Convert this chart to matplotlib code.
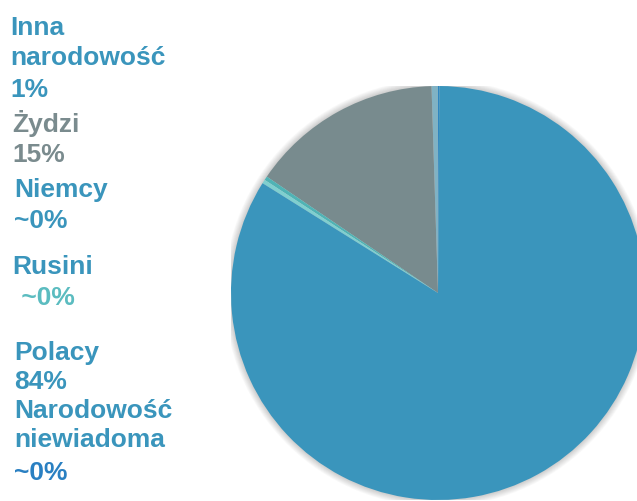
import matplotlib.pyplot as plt
from matplotlib.patches import Circle


FIG_W = 637
FIG_H = 501

# slice order, counterclockwise starting from 12 o'clock
categories = ["Inna narodowość", "Żydzi", "Niemcy", "Rusini", "Polacy", "Narodowość niewiadoma"]
shares = [0.5, 15.0, 0.3, 0.3, 83.8, 0.1]
slice_colors = ["#80b2c4", "#788b8e", "#4fb3b5", "#7fcfcf", "#3a95bc", "#2f86c0"]

# labels on the left: (text, color, x px, baseline y px)
label_lines = [
    ("Inna", "#3a95bc", 10, 35),
    ("narodowość", "#3a95bc", 10, 65),
    ("1%", "#3a95bc", 10, 97),
    ("Żydzi", "#7a8b8e", 12, 132),
    ("15%", "#7a8b8e", 12, 162),
    ("Niemcy", "#3a95bc", 14, 197),
    ("~0%", "#3a95bc", 14, 228),
    ("Rusini", "#3a95bc", 12, 274),
    (" ~0%", "#5bbcc0", 14, 305),
    ("Polacy", "#3a95bc", 14, 360),
    ("84%", "#3a95bc", 14, 389),
    ("Narodowość", "#3a95bc", 14, 418),
    ("niewiadoma", "#3a95bc", 14, 447),
    ("~0%", "#2a80c2", 14, 480),
]


def main():
    plt.rcParams["font.family"] = ["Liberation Sans", "DejaVu Sans"]

    fig = plt.figure(figsize=(FIG_W / 100, FIG_H / 100), dpi=100)

    # pie box in pixels: left 231, top 86, size 414 (runs past right edge)
    left, top, size = 231, 86, 414
    ax = fig.add_axes([left / FIG_W, (FIG_H - top - size) / FIG_H, size / FIG_W, size / FIG_H])

    # soft glow around the pie
    for i in range(8):
        r = 1.0 + 0.004 * (i + 1)
        ax.add_patch(Circle((0, 0), r, color="#000000", alpha=0.025, lw=0, zorder=0))

    ax.pie(
        shares,
        colors=slice_colors,
        startangle=90,
        counterclock=True,
        radius=1.0,
        wedgeprops={"linewidth": 0},
    )
    ax.set_xlim(-1, 1)
    ax.set_ylim(-1, 1)
    ax.set_aspect("auto")
    ax.axis("off")

    for text, color, x, y in label_lines:
        fig.text(
            x / FIG_W,
            1 - y / FIG_H,
            text,
            color=color,
            fontsize=19,
            fontweight="bold",
            va="baseline",
            ha="left",
        )

    fig.savefig("out.png", dpi=100)
    plt.close(fig)


if __name__ == "__main__":
    main()
